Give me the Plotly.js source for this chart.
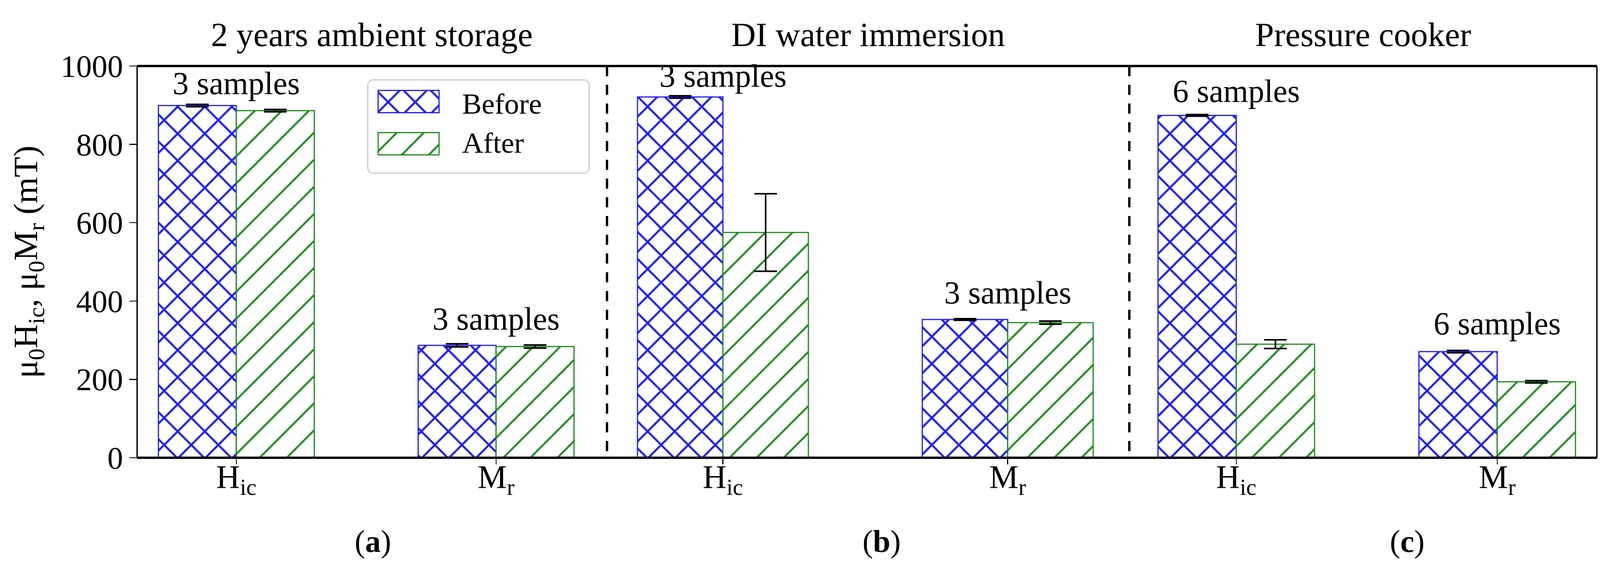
<!DOCTYPE html>
<html><head><meta charset="utf-8">
<script src="https://cdn.plot.ly/plotly-3.0.1.min.js"></script>
<style>html,body{margin:0;padding:0;background:#fff;} #chart{width:4139px;height:1485px;}</style>
</head><body><div id="chart"></div>
<script>
// ---------- data ----------
const categories = ["Hic", "Mr"];
const tickLabels = ["H<sub>ic</sub>", "M<sub>r</sub>"];
const panelTitles = ["2 years ambient storage", "DI water immersion", "Pressure cooker"];
const panelTags = ["a", "b", "c"];
const sampleCounts = [["3 samples", "3 samples"], ["3 samples", "3 samples"], ["6 samples", "6 samples"]];
const seriesNames = ["Before", "After"];

const beforeAmbient = [899, 287];
const afterAmbient = [886, 284];
const beforeAmbientErr = [3, 4];
const afterAmbientErr = [3, 4];

const beforeWater = [921, 353];
const afterWater = [575, 345];
const beforeWaterErr = [3, 2];
const afterWaterErr = [99, 4];

const beforeCooker = [874, 271];
const afterCooker = [290, 194];
const beforeCookerErr = [2, 3];
const afterCookerErr = [11, 3];

// ---------- styling / layout ----------
const FONT = "Liberation Serif, Times New Roman, serif";
const BLUE = "rgb(30,30,255)";
const GREEN = "rgb(30,140,30)";

const panels = [
  {ax: "x",  before: beforeAmbient, after: afterAmbient, bErr: beforeAmbientErr, aErr: afterAmbientErr},
  {ax: "x2", before: beforeWater,   after: afterWater,   bErr: beforeWaterErr,   aErr: afterWaterErr},
  {ax: "x3", before: beforeCooker,  after: afterCooker,  bErr: beforeCookerErr,  aErr: afterCookerErr}
];

const traces = [];
panels.forEach((p, i) => {
  traces.push({
    type: "bar", x: categories, y: p.before, xaxis: p.ax, yaxis: "y",
    name: seriesNames[0], legendgroup: "before", showlegend: i === 0,
    marker: {color: "white", line: {color: BLUE, width: 3},
      pattern: {shape: "x", fgcolor: BLUE, bgcolor: "white", size: 49, solidity: 0.2}},
    error_y: {type: "data", array: p.bErr, visible: true, color: "black", thickness: 4, width: 29}
  });
  traces.push({
    type: "bar", x: categories, y: p.after, xaxis: p.ax, yaxis: "y",
    name: seriesNames[1], legendgroup: "after", showlegend: i === 0,
    marker: {color: "white", line: {color: GREEN, width: 3},
      pattern: {shape: "/", fgcolor: GREEN, bgcolor: "white", size: 49, solidity: 0.1}},
    error_y: {type: "data", array: p.aErr, visible: true, color: "black", thickness: 4, width: 29}
  });
});

const split1 = 0.3219, split2 = 0.6797;
const xCommon = {
  type: "category", anchor: "y", showgrid: false, zeroline: false, showline: false,
  ticks: "outside", ticklen: 16, tickwidth: 2.5, tickcolor: "black",
  tickvals: categories, ticktext: tickLabels, ticklabelstandoff: -40,
  tickfont: {family: FONT, size: 84, color: "black"}
};

const labelY = [[956, 354], [975, 421], [936, 342]];
const annotations = [];
panels.forEach((p, i) => {
  categories.forEach((c, j) => {
    annotations.push({xref: p.ax, yref: "y", x: c, y: labelY[i][j], text: sampleCounts[i][j],
      showarrow: false, xanchor: "center", yanchor: "middle", font: {family: FONT, size: 82, color: "black"}});
  });
});
const domains = [[0, split1], [split1, split2], [split2, 1]];
panelTitles.forEach((t, i) => {
  annotations.push({xref: "paper", yref: "paper", x: (domains[i][0] + domains[i][1]) / 2, y: 1,
    xanchor: "center", yanchor: "bottom", yshift: 30, text: t, showarrow: false,
    font: {family: FONT, size: 87, color: "black"}});
});
const tagX = [0.1616, 0.5100, 0.8702];
panelTags.forEach((t, i) => {
  annotations.push({xref: "paper", yref: "paper", x: tagX[i], y: -0.214, xanchor: "center", yanchor: "middle",
    text: "(<b>" + t + "</b>)", showarrow: false, font: {family: FONT, size: 80, color: "black"}});
});

const shapes = [
  {type: "line", xref: "paper", yref: "paper", x0: 0, x1: 0, y0: 0, y1: 1, line: {color: "black", width: 3.5}},
  {type: "line", xref: "paper", yref: "paper", x0: 1, x1: 1, y0: 0, y1: 1, line: {color: "black", width: 3.5}},
  {type: "line", xref: "paper", yref: "paper", x0: 0, x1: 1, y0: 1, y1: 1, line: {color: "black", width: 6}},
  {type: "line", xref: "paper", yref: "paper", x0: 0, x1: 1, y0: 0, y1: 0, line: {color: "black", width: 6}},
  {type: "line", xref: "paper", yref: "paper", x0: split1, x1: split1, y0: 1, y1: 0, line: {color: "black", width: 6, dash: "26px,22px"}},
  {type: "line", xref: "paper", yref: "paper", x0: split2, x1: split2, y0: 1, y1: 0, line: {color: "black", width: 6, dash: "26px,22px"}}
];

const layout = {
  width: 4139, height: 1485,
  margin: {l: 351, r: 51, t: 169, b: 313},
  paper_bgcolor: "white", plot_bgcolor: "white",
  font: {family: FONT, color: "black"},
  barmode: "group", bargap: 0.4, bargroupgap: 0,
  xaxis: Object.assign({}, xCommon, {domain: domains[0], range: [-0.382, 1.427]}),
  xaxis2: Object.assign({}, xCommon, {domain: domains[1], range: [-0.407, 1.427]}),
  xaxis3: Object.assign({}, xCommon, {domain: domains[2], range: [-0.410, 1.382]}),
  yaxis: {
    anchor: "x", range: [0, 1000], tickvals: [0, 200, 400, 600, 800, 1000],
    showgrid: false, zeroline: false, showline: false,
    ticks: "outside", ticklen: 19, tickwidth: 2.5, tickcolor: "black",
    tickfont: {family: FONT, size: 80, color: "black"},
    title: {text: "μ<sub>0</sub>H<sub>ic</sub>, μ<sub>0</sub>M<sub>r</sub> (mT)", font: {family: FONT, size: 86, color: "black"}, standoff: 30}
  },
  showlegend: true,
  legend: {x: 0.1576, y: 0.966, xanchor: "left", yanchor: "top", bgcolor: "white",
    bordercolor: "#cccccc", borderwidth: 3, font: {family: FONT, size: 75, color: "black"},
    itemwidth: 230, tracegroupgap: 8, traceorder: "normal"},
  annotations: annotations,
  shapes: shapes
};

const gd = document.getElementById("chart");
Plotly.newPlot(gd, traces, layout, {displayModeBar: false, staticPlot: true}).then(() => {
  // enlarge legend swatches to the reference size and reuse the bar hatch patterns
  const mainTr = gd.querySelectorAll(".subplot.xy .barlayer .trace");
  const legTr = gd.querySelectorAll(".legend .traces");
  const swatchCenters = [[1046, 260], [1046, 368]];
  legTr.forEach((lt, i) => {
    const lp = lt.querySelector(".legendpoints path");
    const mp = mainTr[i] && mainTr[i].querySelector("path");
    if (!lp || !mp) return;
    const r = lp.getBoundingClientRect();
    const cx = r.left + r.width / 2, cy = r.top + r.height / 2;
    const dx = swatchCenters[i][0] - cx, dy = swatchCenters[i][1] - cy;
    const hw = 78, hh = 28.5;
    lp.setAttribute("d", `M${dx + hw},${dy + hh}H${dx - hw}V${dy - hh}H${dx + hw}Z`);
    lp.style.fill = mp.style.fill;
    lp.style.strokeWidth = "3px";
  });
  const bg = gd.querySelector(".legend .bg");
  if (bg) { bg.setAttribute("rx", 14); bg.setAttribute("ry", 14); bg.setAttribute("width", 567); bg.setAttribute("height", 239); }
});
</script>
</body></html>
